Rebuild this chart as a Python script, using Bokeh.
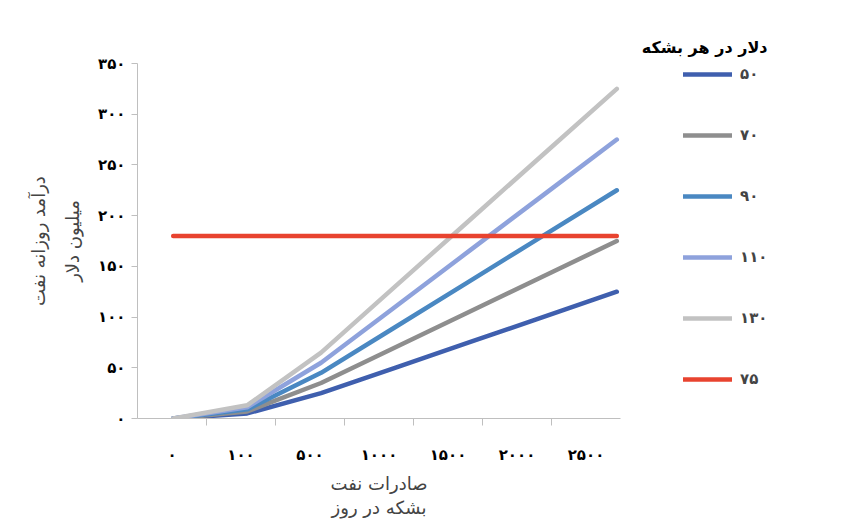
from bokeh.plotting import figure
from bokeh.models import Range1d, FixedTicker, Legend, LegendItem, Title
from bokeh.embed import file_html
from bokeh.resources import INLINE

# ---- data ----
export_labels = ["۰", "۱۰۰", "۵۰۰", "۱۰۰۰", "۱۵۰۰", "۲۰۰۰", "۲۵۰۰"]
price_labels = ["۵۰", "۷۰", "۹۰", "۱۱۰", "۱۳۰"]
rev_50 = [0, 5, 25, 50, 75, 100, 125]
rev_70 = [0, 7, 35, 70, 105, 140, 175]
rev_90 = [0, 9, 45, 90, 135, 180, 225]
rev_110 = [0, 11, 55, 110, 165, 220, 275]
rev_130 = [0, 13, 65, 130, 195, 260, 325]
need_label = "۷۵"
need_values = [180, 180, 180, 180, 180, 180, 180]
y_ticks = [0, 50, 100, 150, 200, 250, 300, 350]
y_tick_labels = ["۰", "۵۰", "۱۰۰", "۱۵۰", "۲۰۰", "۲۵۰", "۳۰۰", "۳۵۰"]
legend_title = "دلار در هر بشکه"
x_title = "صادرات نفت\nبشکه در روز"
y_title = "درآمد روزانه نفت\nمیلیون دلار"

colors = ["#3f5fae", "#8e8e8e", "#4a88c2", "#8ea2dc", "#c2c2c2"]
red = "#e8432f"
FONT = "DejaVu Sans"

xs = list(range(len(export_labels)))
x0, x1 = -0.483, 6.05
n = len(export_labels)
w = (x1 - x0) / n
label_pos = [x0 + (i + 0.5) * w for i in range(n)]
bound_pos = [x0 + (i + 1) * w for i in range(n - 1)]

p = figure(output_backend="svg", toolbar_location=None,
           x_range=Range1d(x0, x1), y_range=Range1d(0, 350),
           frame_width=483, frame_height=355,
           min_border_left=137, min_border_top=63,
           min_border_right=231, min_border_bottom=80)
p.outline_line_color = None
p.grid.visible = False
p.background_fill_color = "white"
p.border_fill_color = "white"

# x axis
xa = p.xaxis[0]
xa.ticker = FixedTicker(ticks=label_pos, minor_ticks=bound_pos)
xa.major_label_overrides = {v: s for v, s in zip(label_pos, export_labels)}
xa.major_tick_out = 0
xa.major_tick_in = 0
xa.minor_tick_out = 7
xa.minor_tick_in = 0
xa.major_label_standoff = 20
xa.axis_line_color = "#bfbfbf"
xa.minor_tick_line_color = "#bfbfbf"
xa.major_label_text_font = FONT
xa.major_label_text_font_style = "bold"
xa.major_label_text_font_size = "15px"
xa.major_label_text_color = "black"
xa.axis_label = x_title
xa.axis_label_text_font = FONT
xa.axis_label_text_font_style = "normal"
xa.axis_label_text_font_size = "18px"
xa.axis_label_text_line_height = 1.15
xa.axis_label_standoff = 6

# y axis
ya = p.yaxis[0]
ya.ticker = FixedTicker(ticks=y_ticks)
ya.major_label_overrides = {v: s for v, s in zip(y_ticks, y_tick_labels)}
ya.major_tick_out = 6
ya.major_tick_in = 0
ya.minor_tick_out = 0
ya.minor_tick_in = 0
ya.major_label_standoff = 6
ya.axis_line_color = "#bfbfbf"
ya.major_tick_line_color = "#bfbfbf"
ya.major_label_text_font = FONT
ya.major_label_text_font_style = "bold"
ya.major_label_text_font_size = "15px"
ya.major_label_text_color = "black"
ya.axis_label = y_title
ya.axis_label_text_font = FONT
ya.axis_label_text_font_style = "normal"
ya.axis_label_text_font_size = "18px"
ya.axis_label_text_line_height = 1.6
ya.axis_label_standoff = 12

series = [rev_50, rev_70, rev_90, rev_110, rev_130]
items = []
for vals, col, lab in zip(series, colors, price_labels):
    r = p.line(xs, vals, line_color=col, line_width=4.5, line_cap="round", line_join="round")
    items.append(LegendItem(label=lab, renderers=[r]))
r = p.line(xs, need_values, line_color=red, line_width=4.5, line_cap="round")
items.append(LegendItem(label=need_label, renderers=[r]))

legend = Legend(items=items, location=(63, 29),
                glyph_width=49, glyph_height=20, label_height=20,
                spacing=41, padding=0, margin=0, label_standoff=8,
                border_line_color=None, background_fill_alpha=0,
                label_text_font=FONT, label_text_font_style="bold",
                label_text_font_size="15px")
p.add_layout(legend, "right")

p.add_layout(Title(text=legend_title, align="right", offset=-147, standoff=14,
                   text_font=FONT, text_font_style="bold",
                   text_font_size="16px", text_color="black"), "above")

open("out.html", "w").write(file_html(p, INLINE))
